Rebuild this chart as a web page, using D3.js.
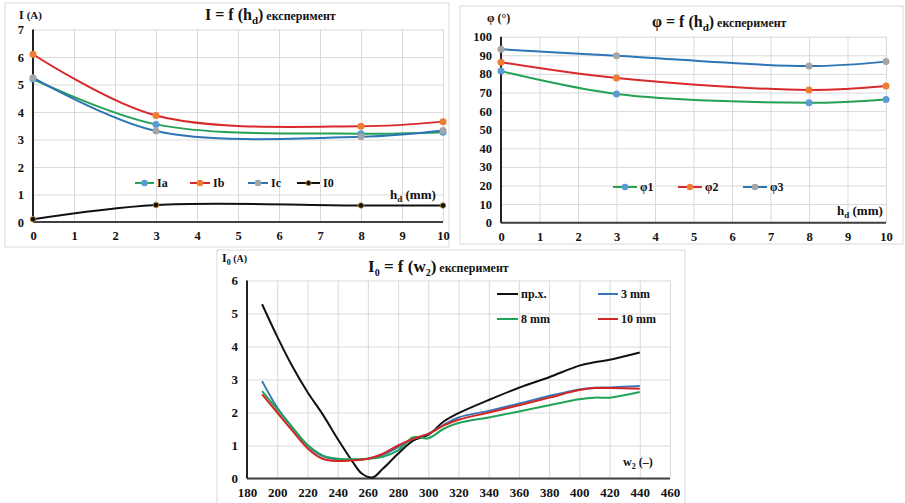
<!DOCTYPE html>
<html>
<head>
<meta charset="utf-8">
<script src="https://cdn.jsdelivr.net/npm/d3@7"></script>
<style>
  body { margin: 0; background: #fff; }
  svg text { font-family: "Liberation Serif", "Times New Roman", serif; font-weight: bold; fill: #111; }
</style>
</head>
<body>
<script>
// --- top left: I = f(hd)
const hd = [0, 3, 8, 10];
const Ia = [5.2, 3.55, 3.21, 3.26];
const Ib = [6.1, 3.87, 3.48, 3.65];
const Ic = [5.25, 3.31, 3.1, 3.33];
const I0 = [0.1, 0.62, 0.6, 0.6];
const hdTicks = d3.range(0, 11);
const iTicks = d3.range(0, 8);

// --- top right: phi = f(hd)
const phi1 = [81.5, 69.2, 64.5, 66.3];
const phi2 = [86.3, 77.8, 71.4, 73.5];
const phi3 = [93.2, 89.8, 84.2, 86.6];
const phiTicks = d3.range(0, 101, 10);

// --- bottom: I0 = f(w2)
const w2NoLoad = [190, 200, 210, 220, 230, 240, 250, 256, 263, 270, 280, 290, 300, 310, 320, 340, 360, 380, 400, 410, 420, 440];
const noLoad   = [5.28, 4.3, 3.4, 2.62, 1.95, 1.2, 0.5, 0.15, 0.03, 0.3, 0.75, 1.15, 1.32, 1.72, 1.98, 2.38, 2.75, 3.07, 3.42, 3.52, 3.6, 3.82];
const w2 = [190, 200, 210, 220, 230, 240, 250, 260, 270, 280, 290, 300, 310, 320, 340, 360, 380, 400, 410, 420, 440];
const mm3  = [2.95, 2.15, 1.55, 1.0, 0.68, 0.58, 0.57, 0.6, 0.72, 0.95, 1.2, 1.35, 1.62, 1.85, 2.05, 2.27, 2.5, 2.7, 2.75, 2.76, 2.8];
const mm8  = [2.65, 2.1, 1.55, 1.02, 0.7, 0.6, 0.58, 0.6, 0.66, 0.85, 1.25, 1.22, 1.5, 1.68, 1.85, 2.03, 2.22, 2.4, 2.45, 2.45, 2.62];
const mm10 = [2.55, 2.0, 1.45, 0.92, 0.6, 0.53, 0.55, 0.6, 0.75, 1.0, 1.2, 1.35, 1.6, 1.78, 2.0, 2.22, 2.45, 2.68, 2.74, 2.74, 2.72];
const wTicks = d3.range(180, 461, 20);
const i0Ticks = d3.range(0, 7);

const GREEN = '#23a256', RED = '#d7292b', BLUE = '#2e75b6', BLACK = '#111';
const M_BLUE = '#5b9bd5', M_ORANGE = '#ed7d31', M_GRAY = '#a5a5a5';

const svg = d3.select('body').append('svg')
  .attr('width', 905)
  .attr('height', 503);

function frame(x, y, w, h) {
  svg.append('rect')
    .attr('x', x).attr('y', y).attr('width', w).attr('height', h)
    .attr('fill', '#fff').attr('stroke', '#d9d9d9');
}

// grid + axes + tick labels for one panel
function axes(x, y, xTicks, yTicks, fontSize) {
  const [x0, x1] = x.range();
  const [y0, y1] = y.range();
  const g = svg.append('g');

  g.append('g')
    .attr('transform', `translate(0,${y0})`)
    .call(d3.axisBottom(x).tickValues(xTicks).tickSize(-(y0 - y1)).tickFormat(''))
    .call(s => s.select('.domain').remove())
    .selectAll('line').attr('stroke', '#d9d9d9');

  g.append('g')
    .attr('transform', `translate(${x0},0)`)
    .call(d3.axisLeft(y).tickValues(yTicks).tickSize(-(x1 - x0)).tickFormat(''))
    .call(s => s.select('.domain').remove())
    .selectAll('line').attr('stroke', '#d9d9d9');

  const bx = g.append('g')
    .attr('transform', `translate(0,${y0})`)
    .call(d3.axisBottom(x).tickValues(xTicks).tickFormat(d3.format('d')).tickSize(0).tickPadding(9))
    .attr('font-family', null)
    .attr('font-size', fontSize);
  bx.select('.domain').remove();

  const ly = g.append('g')
    .attr('transform', `translate(${x0},0)`)
    .call(d3.axisLeft(y).tickValues(yTicks).tickFormat(d3.format('d')).tickSize(0).tickPadding(9))
    .attr('font-family', null)
    .attr('font-size', fontSize);
  ly.select('.domain').remove();

  g.append('line')
    .attr('x1', x0).attr('x2', x1).attr('y1', y0).attr('y2', y0)
    .attr('stroke', '#404040').attr('stroke-width', 2);
  g.append('line')
    .attr('x1', x0).attr('x2', x0).attr('y1', y0).attr('y2', y1)
    .attr('stroke', '#222').attr('stroke-width', 2);
}

function series(xs, ys, x, y, color, marker, r) {
  const line = d3.line()
    .x((d, i) => x(xs[i]))
    .y(d => y(d))
    .curve(d3.curveCatmullRom.alpha(0.5));
  svg.append('path')
    .datum(ys)
    .attr('d', line)
    .attr('fill', 'none')
    .attr('stroke', color)
    .attr('stroke-width', 2);
  if (marker) {
    svg.append('g').selectAll('circle')
      .data(ys)
      .join('circle')
      .attr('cx', (d, i) => x(xs[i]))
      .attr('cy', d => y(d))
      .attr('r', r)
      .attr('fill', marker)
      .attr('stroke', marker === BLACK ? '#c9963a' : 'none')
      .attr('stroke-width', 0.8);
  }
}

function legendItem(lx, ly, len, color, marker, r, label, size) {
  svg.append('line')
    .attr('x1', lx).attr('x2', lx + len).attr('y1', ly).attr('y2', ly)
    .attr('stroke', color).attr('stroke-width', 2);
  if (marker) {
    svg.append('circle')
      .attr('cx', lx + len / 2).attr('cy', ly).attr('r', r)
      .attr('fill', marker)
      .attr('stroke', marker === BLACK ? '#c9963a' : 'none')
      .attr('stroke-width', 0.8);
  }
  svg.append('text')
    .attr('x', lx + len + 3).attr('y', ly + 4)
    .attr('font-size', size)
    .text(label);
}

// title like "X = f (y_s) експеримент"
function title(tx, ty, main, sub, tail) {
  const t = svg.append('text').attr('x', tx).attr('y', ty).attr('font-size', 16);
  t.append('tspan').text(main);
  t.append('tspan').attr('font-size', 11).attr('dy', 4).text(sub);
  t.append('tspan').attr('dy', -4).text(')');
  t.append('tspan').attr('font-size', 12).text(' ' + tail);
}

// ================= panel 1 =================
frame(5, 3, 444, 244);
const x1 = d3.scaleLinear().domain([0, 10]).range([33, 443]);
const y1 = d3.scaleLinear().domain([0, 7]).range([222, 29.5]);
axes(x1, y1, hdTicks, iTicks, 12.5);
title(205, 20, 'I = f (h', 'd', 'експеримент');
svg.append('text').attr('x', 19).attr('y', 19).attr('font-size', 12)
  .call(t => { t.append('tspan').text('I '); t.append('tspan').attr('font-size', 11).text('(A)'); });

series(hd, Ia, x1, y1, GREEN, M_BLUE, 3.5);
series(hd, Ib, x1, y1, RED, M_ORANGE, 3.5);
series(hd, Ic, x1, y1, BLUE, M_GRAY, 3.5);
series(hd, I0, x1, y1, BLACK, BLACK, 2.8);

legendItem(135, 183, 19, GREEN, M_BLUE, 3.3, 'Ia', 12);
legendItem(190, 183, 20, RED, M_ORANGE, 3.3, 'Ib', 12);
legendItem(248, 183, 20, BLUE, M_GRAY, 3.3, 'Ic', 12);
legendItem(297, 183, 23, BLACK, BLACK, 2.6, 'I0', 12);

svg.append('text').attr('x', 390).attr('y', 199).attr('font-size', 13)
  .call(t => {
    t.append('tspan').text('h');
    t.append('tspan').attr('font-size', 9).attr('dy', 3).text('d');
    t.append('tspan').attr('dy', -3).text(' (mm)');
  });

// ================= panel 2 =================
frame(460, 6, 443, 238);
const x2 = d3.scaleLinear().domain([0, 10]).range([501, 886]);
const y2 = d3.scaleLinear().domain([0, 100]).range([222.7, 36.7]);
axes(x2, y2, hdTicks, phiTicks, 12.5);
title(652, 27, 'φ = f (h', 'd', 'експеримент');
svg.append('text').attr('x', 487).attr('y', 22).attr('font-size', 12).text('φ (°)');

series(hd, phi1, x2, y2, GREEN, M_BLUE, 3.5);
series(hd, phi2, x2, y2, RED, M_ORANGE, 3.5);
series(hd, phi3, x2, y2, BLUE, M_GRAY, 3.5);

legendItem(613, 187, 24, GREEN, M_BLUE, 3.3, 'φ1', 12);
legendItem(678, 187, 24, RED, M_ORANGE, 3.3, 'φ2', 12);
legendItem(743, 187, 24, BLUE, M_GRAY, 3.3, 'φ3', 12);

svg.append('text').attr('x', 837).attr('y', 215).attr('font-size', 13)
  .call(t => {
    t.append('tspan').text('h');
    t.append('tspan').attr('font-size', 9).attr('dy', 3).text('d');
    t.append('tspan').attr('dy', -3).text(' (mm)');
  });

// ================= panel 3 =================
frame(217, 250, 468, 260);
const x3 = d3.scaleLinear().domain([180, 460]).range([247, 670]);
const y3 = d3.scaleLinear().domain([0, 6]).range([478.5, 280.5]);
axes(x3, y3, wTicks, i0Ticks, 13);

svg.append('text').attr('x', 368).attr('y', 272).attr('font-size', 17)
  .call(t => {
    t.append('tspan').text('I');
    t.append('tspan').attr('font-size', 10).attr('dy', 4).text('0');
    t.append('tspan').attr('dy', -4).text(' = f (w');
    t.append('tspan').attr('font-size', 10).attr('dy', 4).text('2');
    t.append('tspan').attr('dy', -4).text(')');
    t.append('tspan').attr('font-size', 12).text(' експеримент');
  });
svg.append('text').attr('x', 222).attr('y', 262).attr('font-size', 12)
  .call(t => {
    t.append('tspan').text('I');
    t.append('tspan').attr('font-size', 8).attr('dy', 3).text('0');
    t.append('tspan').attr('font-size', 10).attr('dy', -3).text(' (A)');
  });

series(w2NoLoad, noLoad, x3, y3, BLACK, null);
series(w2, mm3, x3, y3, '#3a78b5', null);
series(w2, mm8, x3, y3, '#22a35a', null);
series(w2, mm10, x3, y3, '#d42424', null);

legendItem(497, 294, 21, BLACK, null, 0, 'пр.х.', 12);
legendItem(598, 294, 20, '#3a78b5', null, 0, '3 mm', 12);
legendItem(497, 319, 21, '#22a35a', null, 0, '8 mm', 12);
legendItem(598, 319, 20, '#d42424', null, 0, '10 mm', 12);

svg.append('text').attr('x', 623).attr('y', 466).attr('font-size', 12)
  .call(t => {
    t.append('tspan').text('w');
    t.append('tspan').attr('font-size', 8).attr('dy', 3).text('2');
    t.append('tspan').attr('dy', -3).text(' (–)');
  });
</script>
</body>
</html>
